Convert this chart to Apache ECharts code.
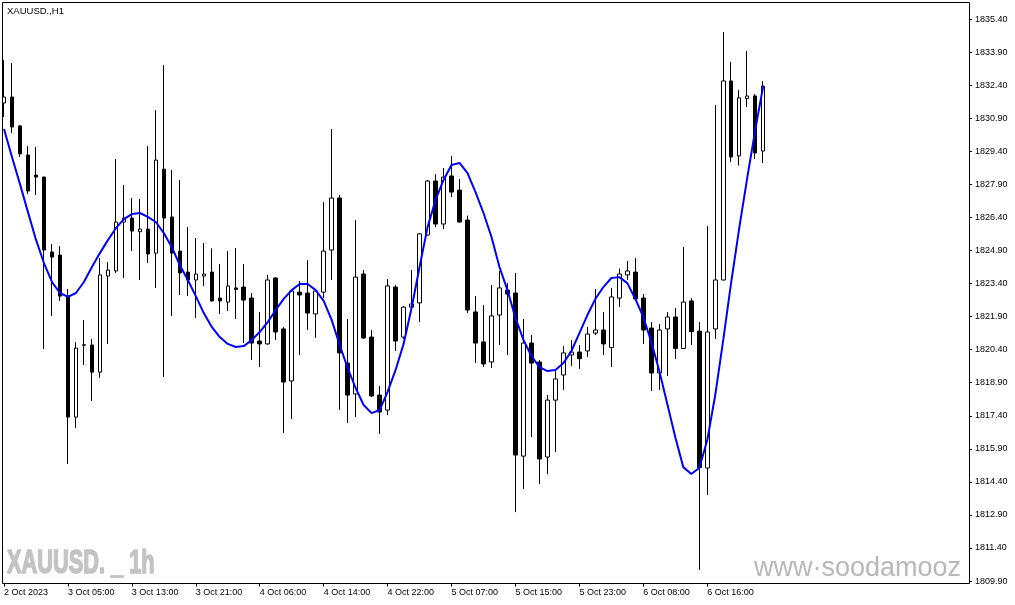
<!DOCTYPE html>
<html><head><meta charset="utf-8">
<script src="https://cdn.jsdelivr.net/npm/echarts@6/dist/echarts.min.js"></script>
<style>html,body{margin:0;padding:0;background:#fff}#c{width:1015px;height:605px}</style>
</head><body><div id="c"></div>
<script>
const opens = [1831.59,1831.86,1830.55,1829.23,1828.32,1828.23,1824.83,1824.69,1822.83,1817.34,
1820.60,1820.61,1819.38,1823.74,1823.97,1826.19,1826.37,1825.75,1825.87,1824.78,
1828.59,1826.42,1824.87,1823.92,1823.56,1823.74,1823.92,1822.74,1822.56,1823.20,
1823.24,1822.74,1820.79,1820.66,1823.65,1821.34,1818.98,1823.01,1822.97,1822.02,
1823.01,1824.92,1827.28,1819.79,1818.39,1823.83,1820.97,1818.34,1817.66,1823.24,
1820.97,1822.33,1822.52,1825.60,1828.05,1826.10,1828.28,1827.64,1826.28,1822.11,
1820.75,1819.84,1821.97,1823.10,1822.97,1815.57,1820.70,1819.84,1815.53,1818.11,
1819.25,1820.16,1820.29,1820.34,1821.15,1821.29,1820.50,1822.74,1823.79,1823.92,
1822.74,1821.38,1819.34,1821.34,1821.88,1820.45,1822.61,1821.24,1815.03,1821.34,
1823.56,1832.59,1829.19,1831.79,1831.91,1829.41];
const closes = [1831.86,1830.50,1829.28,1827.60,1828.23,1824.92,1824.60,1822.83,1817.34,1820.47,
1820.62,1819.38,1823.79,1824.01,1826.19,1826.37,1825.78,1825.87,1824.74,1829.00,
1826.37,1824.78,1823.88,1823.56,1823.83,1823.83,1822.61,1822.61,1823.29,1823.13,
1822.65,1820.70,1820.66,1823.56,1821.20,1818.93,1823.06,1822.88,1822.06,1823.06,
1824.87,1827.28,1820.25,1818.34,1823.69,1820.93,1818.30,1817.57,1823.29,1820.79,
1822.33,1822.47,1825.65,1828.05,1826.10,1828.23,1827.55,1826.19,1822.20,1820.70,
1819.75,1821.93,1823.20,1822.92,1815.62,1820.70,1819.79,1815.44,1818.11,1819.07,
1820.25,1820.29,1819.99,1821.11,1821.29,1820.66,1822.79,1823.83,1823.97,1822.70,
1821.29,1819.34,1821.29,1821.88,1820.45,1822.56,1821.22,1815.05,1821.20,1823.56,
1832.59,1829.14,1831.82,1831.91,1829.32,1832.36];
const lows = [1830.95,1830.23,1829.14,1827.46,1827.42,1820.43,1821.93,1822.61,1815.21,1816.84,
1819.70,1818.07,1819.11,1820.66,1823.88,1823.65,1824.87,1823.56,1824.33,1823.20,
1819.16,1821.93,1822.88,1822.83,1821.84,1823.29,1822.56,1822.02,1822.15,1821.79,
1820.70,1819.93,1819.61,1820.62,1820.84,1816.62,1817.25,1820.16,1821.29,1820.93,
1822.74,1823.56,1817.66,1817.07,1817.34,1820.88,1818.25,1816.57,1817.43,1820.34,
1820.88,1822.29,1821.65,1825.58,1825.96,1825.87,1827.32,1826.17,1822.06,1819.79,
1819.61,1819.57,1820.61,1820.16,1813.03,1814.08,1816.43,1814.30,1814.75,1815.75,
1818.57,1819.66,1819.52,1820.07,1821.06,1820.16,1819.61,1822.33,1823.56,1822.61,
1820.66,1818.52,1818.57,1819.20,1819.97,1820.43,1820.61,1810.40,1813.80,1820.88,
1823.54,1828.91,1828.75,1831.41,1829.05,1828.87];
const highs = [1833.54,1833.40,1830.59,1829.64,1829.59,1828.25,1825.19,1825.10,1823.15,1820.75,
1821.74,1820.88,1824.56,1824.37,1829.05,1827.87,1827.28,1827.23,1829.64,1831.27,
1833.31,1828.55,1828.10,1825.96,1825.46,1825.24,1825.00,1824.28,1824.87,1825.01,
1824.28,1822.97,1822.11,1823.79,1823.69,1821.43,1823.10,1823.51,1824.46,1823.10,
1827.10,1830.41,1827.42,1821.79,1826.28,1824.01,1821.29,1818.75,1823.60,1823.33,
1822.38,1824.01,1825.68,1828.10,1828.37,1828.64,1829.19,1828.14,1826.48,1822.83,
1822.42,1823.33,1823.97,1823.42,1823.88,1821.79,1821.06,1819.93,1818.34,1819.43,
1820.56,1820.84,1820.61,1821.43,1823.15,1822.11,1823.20,1824.08,1824.42,1824.56,
1822.92,1821.65,1821.56,1822.11,1822.29,1825.06,1822.74,1821.65,1826.01,1831.50,
1834.81,1833.45,1832.18,1833.95,1832.00,1832.59];
const maLine = [1830.41,1829.14,1827.91,1826.64,1825.39,1824.33,1823.47,1822.97,1822.79,1822.97,
1823.47,1824.15,1824.78,1825.37,1825.91,1826.32,1826.55,1826.60,1826.42,1826.19,
1825.69,1825.05,1824.24,1823.56,1822.83,1822.06,1821.43,1820.97,1820.66,1820.52,
1820.56,1820.84,1821.20,1821.65,1822.20,1822.70,1823.10,1823.38,1823.38,1823.10,
1822.61,1821.75,1820.61,1819.57,1818.66,1817.89,1817.52,1817.66,1818.48,1819.48,
1820.66,1822.29,1824.15,1825.96,1827.19,1828.10,1828.78,1828.87,1828.41,1827.55,
1826.60,1825.51,1824.15,1823.10,1821.84,1820.84,1820.11,1819.61,1819.43,1819.48,
1819.79,1820.34,1821.15,1821.97,1822.70,1823.24,1823.65,1823.69,1823.42,1822.70,
1821.88,1820.75,1819.43,1817.93,1816.43,1815.07,1814.76,1815.03,1816.30,1818.34,
1820.84,1823.47,1825.91,1828.19,1830.36,1832.36];
const xTickLabels = ["2 Oct 2023","3 Oct 05:00","3 Oct 13:00","3 Oct 21:00","4 Oct 06:00","4 Oct 14:00",
"4 Oct 22:00","5 Oct 07:00","5 Oct 15:00","5 Oct 23:00","6 Oct 08:00","6 Oct 16:00"];
const yTicks = [1809.90,1811.40,1812.90,1814.40,1815.90,1817.40,1818.90,1820.40,1821.90,
1823.40,1824.90,1826.40,1827.90,1829.40,1830.90,1832.40,1833.90,1835.40];
const barsPerLabel = 8;
const emptyBars = 25;

const totalBars = opens.length + emptyBars;
const categories = [];
for (let i = 0; i < totalBars; i++) categories.push(String(i));
const candleData = opens.map((o, i) => [o, closes[i], lows[i], highs[i]]);
const showTick = i => i % barsPerLabel === 0 && (i / barsPerLabel) < xTickLabels.length;

const chart = echarts.init(document.getElementById('c'), null, {renderer: 'canvas'});
chart.setOption({
  animation: false,
  backgroundColor: '#ffffff',
  grid: {left: -1, top: 2.5, width: 968, height: 581, containLabel: false},
  xAxis: {
    type: 'category', data: categories, boundaryGap: true,
    axisLine: {show: false},
    axisTick: {show: true, interval: (i) => showTick(i), alignWithLabel: true, length: 3, lineStyle: {color: '#000'}},
    axisLabel: {interval: (i) => showTick(i), align: 'left', margin: 5,
      formatter: (v, i) => xTickLabels[i / barsPerLabel] || '',
      fontFamily: 'Liberation Sans', fontSize: 9, color: '#000'},
    splitLine: {show: false}
  },
  yAxis: {
    type: 'value', position: 'right', offset: 2, scale: true,
    min: 1809.79, max: 1836.15,
    axisLine: {show: false},
    axisTick: {show: true, customValues: yTicks, length: 3, lineStyle: {color: '#000'}},
    axisLabel: {customValues: yTicks, margin: 6, formatter: v => v.toFixed(2),
      fontFamily: 'Liberation Sans', fontSize: 9, color: '#000'},
    splitLine: {show: false}
  },
  series: [
    {type: 'candlestick', data: candleData, barWidth: 4,
      itemStyle: {color: '#ffffff', color0: '#000000', borderColor: '#000000', borderColor0: '#000000', borderWidth: 1},
      z: 2},
    {type: 'line', data: maLine, symbol: 'none', smooth: false,
      lineStyle: {color: '#0000ff', width: 2}, z: 3}
  ],
  graphic: [
    {type: 'rect', silent: true, z: 100, shape: {x: 2.5, y: 2.5, width: 967, height: 581},
      style: {fill: 'none', stroke: '#000', lineWidth: 1}},
    {type: 'text', silent: true, x: 7, y: 6, style: {text: 'XAUUSD.,H1', font: '9.5px "Liberation Sans"', fill: '#000', verticalAlign: 'top'}},
    {type: 'text', silent: true, x: 7, y: 547, scaleX: 0.66, style: {text: 'XAUUSD. _ 1h', font: 'bold 33px "Liberation Sans"', fill: '#c3c3c3', stroke: '#c3c3c3', lineWidth: 1.6, verticalAlign: 'top'}},
    {type: 'text', silent: true, x: 754, y: 555, style: {text: 'www·soodamooz', font: '27px "Liberation Sans"', fill: '#b8b8b8', verticalAlign: 'top'}}
  ]
});
</script></body></html>
